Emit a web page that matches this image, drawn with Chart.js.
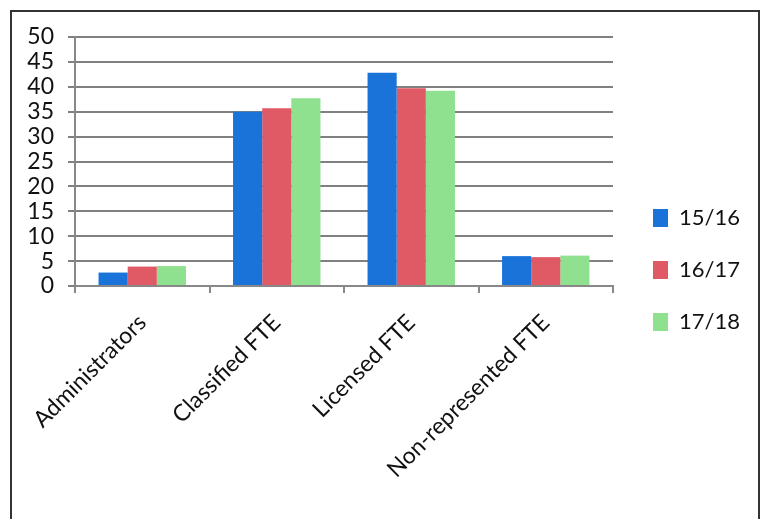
<!DOCTYPE html>
<html>
<head>
<meta charset="utf-8">
<script src="https://cdn.jsdelivr.net/npm/chart.js@4"></script>
<style>
  html, body { margin: 0; padding: 0; background: #fff; }
  #wrap { position: relative; width: 768px; height: 519px; }
  #frame { position: absolute; left: 10px; top: 10px; width: 750px; height: 520px;
           border: 2px solid #333; box-sizing: border-box; }
  canvas { position: absolute; left: 0; top: 0; }
</style>
</head>
<body>
<div id="wrap">
  <div id="frame"></div>
  <canvas id="chart" width="768" height="519"></canvas>
</div>
<script>
// staffing by year
const categories = ['Administrators', 'Classified FTE', 'Licensed FTE', 'Non-represented FTE'];
const years = ['15/16', '16/17', '17/18'];
const fy1516 = [2.7, 35, 42.8, 6.0];
const fy1617 = [3.9, 35.7, 39.7, 5.8];
const fy1718 = [4.0, 37.7, 39.2, 6.1];
const yTicks = [0, 5, 10, 15, 20, 25, 30, 35, 40, 45, 50];

const colors = ['#1a73d9', '#e05a66', '#8fe08f'];
const font = "Lato, 'Open Sans', sans-serif";

// nudge the legend over to where it sits in the original
const legendShift = {
  id: 'legendShift',
  afterLayout(chart) {
    const lg = chart.legend;
    lg.left += 10; lg.right += 10;
    lg.top -= 8; lg.bottom -= 8;
  }
};

const ctx = document.getElementById('chart').getContext('2d');
new Chart(ctx, {
  type: 'bar',
  data: {
    labels: categories,
    datasets: [fy1516, fy1617, fy1718].map((d, i) => ({
      label: years[i],
      data: d,
      backgroundColor: colors[i],
      borderWidth: 0,
      categoryPercentage: 0.65,
      barPercentage: 1
    }))
  },
  options: {
    responsive: false,
    animation: false,
    layout: { padding: { top: 37, right: 28, bottom: 0, left: 0 } },
    plugins: {
      tooltip: { enabled: false },
      legend: {
        position: 'right',
        labels: {
          boxWidth: 15,
          boxHeight: 18,
          padding: 30,
          color: '#111',
          font: { family: font, size: 22 }
        }
      }
    },
    scales: {
      x: {
        grid: { offset: true, drawOnChartArea: false, drawTicks: true, tickLength: 7, color: '#888', lineWidth: 2 },
        border: { color: '#888', width: 2 },
        ticks: { color: '#111', maxRotation: 45, minRotation: 45, padding: 16, font: { family: font, size: 23 } },
        afterFit: s => { s.height = 233; }
      },
      y: {
        min: 0,
        max: 50,
        afterBuildTicks: s => { s.ticks = yTicks.map(v => ({ value: v })); },
        grid: { color: '#808080', lineWidth: 2, tickLength: 7 },
        border: { color: '#888', width: 2 },
        ticks: { color: '#111', autoSkip: false, padding: 14, font: { family: font, size: 23 } },
        afterFit: s => { s.width = 75; }
      }
    }
  },
  plugins: [legendShift]
});
</script>
</body>
</html>
